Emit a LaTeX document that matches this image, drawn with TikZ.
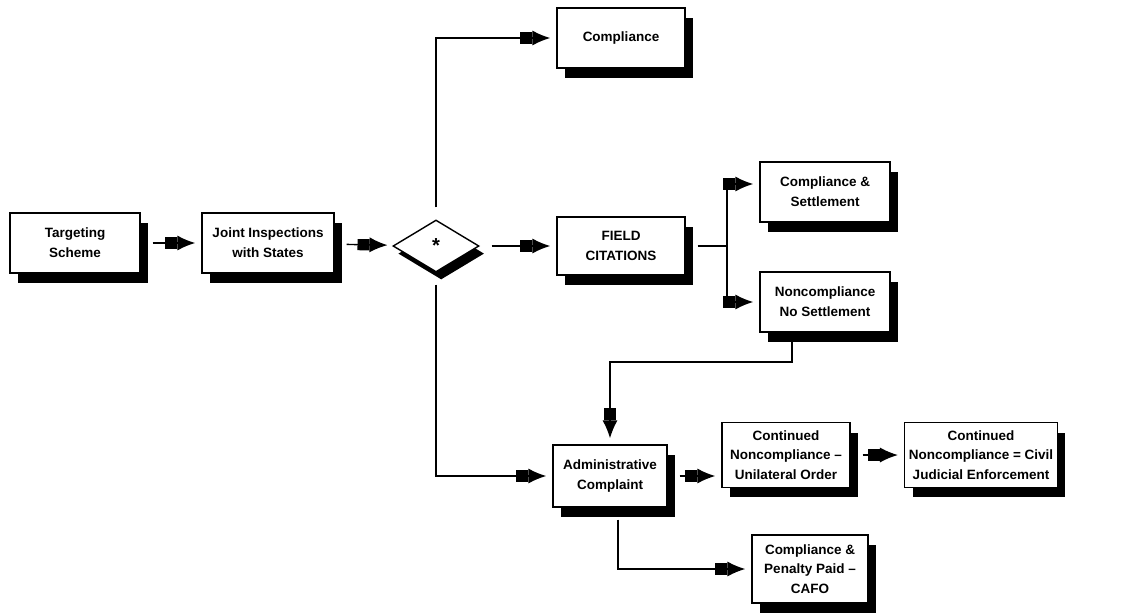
\documentclass[tikz,border=0pt]{standalone}
\usepackage{fontspec}
\setsansfont{Liberation Sans}
\usetikzlibrary{arrows.meta,shapes.geometric,shadows}

\begin{document}
\begin{tikzpicture}[x=0.025cm, y=-0.025cm, line width=1pt,
  box/.style={draw, fill=white, align=center, inner sep=1pt,
    font=\sffamily\bfseries\fontsize{9.6}{14}\selectfont,
    drop shadow={opacity=1, fill=black, shadow xshift=2mm, shadow yshift=-2.5mm}},
  decision/.style={diamond, draw, fill=white, aspect=1.6, minimum width=2.15cm,
    minimum height=1.3cm, inner sep=0pt, font=\sffamily\bfseries\Large,
    drop shadow={opacity=1, fill=black, shadow xshift=1.3mm, shadow yshift=-1.9mm}},
  arr/.style={-{Rectangle[length=3mm,width=2.8mm]Latex[length=4.5mm,width=3.8mm]}, shorten >=1.5mm}]
\useasboundingbox (0,0) rectangle (1129,614);
\node[box, minimum width=3.25cm, minimum height=1.5cm] (scheme) at (75,243) {Targeting\\Scheme};
\node[box, minimum width=3.3cm, minimum height=1.5cm] (joint) at (268,243) {Joint Inspections\\with States};
\node[decision] (check) at (436,246) {*};
\node[box, minimum width=3.2cm, minimum height=1.5cm] (comply) at (621,38) {Compliance};
\node[box, minimum width=3.2cm, minimum height=1.45cm] (citations) at (621,246) {FIELD\\CITATIONS};
\node[box, minimum width=3.25cm, minimum height=1.5cm] (settle) at (825,192) {Compliance \&\\Settlement};
\node[box, minimum width=3.25cm, minimum height=1.5cm] (nosettle) at (825,302) {Noncompliance\\No Settlement};
\node[box, minimum width=2.85cm, minimum height=1.55cm] (admin) at (610,476) {Administrative\\Complaint};
\node[box, minimum width=3.2cm, minimum height=1.62cm] (order) at (786,455) {Continued\\Noncompliance --\\Unilateral Order};
\node[box, minimum width=3.82cm, minimum height=1.62cm] (judicial) at (981,455) {Continued\\Noncompliance = Civil\\Judicial Enforcement};
\node[box, minimum width=2.9cm, minimum height=1.7cm] (cafo) at (810,569) {Compliance \&\\Penalty Paid --\\CAFO};
\coordinate (split) at (727,246);
\coordinate (bend) at (610,362);
% main line
\draw[arr, shorten <=3mm] (scheme) -- (joint);
\draw[arr, shorten <=3mm] (joint) -- (check);
\draw[arr, shorten <=3mm] (check) -- (citations);
\draw[arr, shorten <=3mm] (check.north) |- (comply.west);
\draw[arr, shorten <=3mm] (check.south) |- (admin.west);
% field citations
\draw[shorten <=3mm] (citations.east) -- (split);
\draw[arr] (split) |- ([yshift=0.2cm]settle.west);
\draw[arr] (split) |- (nosettle.west);
\draw[arr, shorten <=2mm] ([xshift=-0.825cm]nosettle.south) |- (bend) -- (admin.north);
% administrative complaint
\draw[arr, shorten <=3mm] (admin.east) -- (admin.east -| order.west);
\draw[arr, shorten <=3mm] (order) -- (judicial);
\draw[arr, shorten <=3mm] ([xshift=0.2cm]admin.south) |- (cafo.west);
\end{tikzpicture}
\end{document}
